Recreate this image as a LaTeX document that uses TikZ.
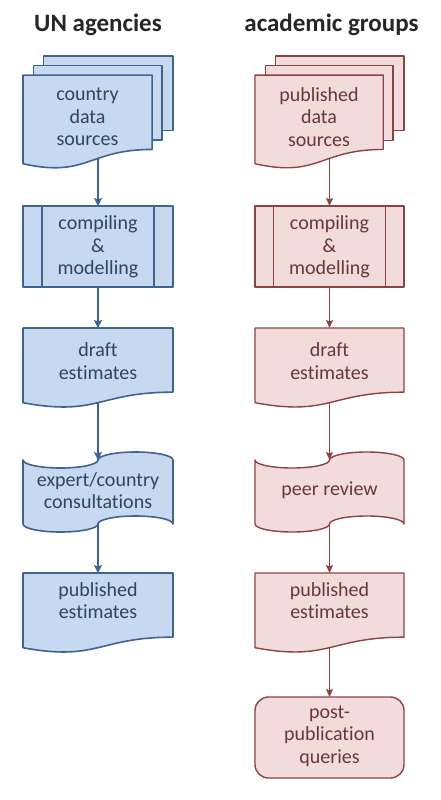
\documentclass[tikz,border=0pt]{standalone}
\usepackage{fontspec}
\setmainfont[Ligatures=NoCommon]{Carlito}
\usetikzlibrary{arrows.meta}
\definecolor{bfill}{HTML}{C6D9F1}
\definecolor{bline}{HTML}{41638F}
\definecolor{btext}{HTML}{2F4463}
\definecolor{rfill}{HTML}{F2DCDB}
\definecolor{rline}{HTML}{8A4444}
\definecolor{rtext}{HTML}{683838}
\definecolor{ttext}{HTML}{262626}
\begin{document}
\begin{tikzpicture}[x=1pt,y=-1pt,
  bshape/.style={fill=bfill,draw=bline,line width=1.6pt,line join=round},
  rshape/.style={fill=rfill,draw=rline,line width=1.4pt,line join=round},
  btxt/.style={text=btext,align=center,font=\fontsize{20}{22.5}\selectfont,inner sep=0pt},
  rtxt/.style={text=rtext,align=center,font=\fontsize{20}{22.5}\selectfont,inner sep=0pt},
  coltitle/.style={text=ttext,font=\fontsize{25}{30}\selectfont\bfseries,anchor=base,inner sep=0pt},
  barrow/.style={draw=bline,line width=1.8pt,-{Stealth[length=8pt,width=8pt,inset=1.5pt]}},
  rarrow/.style={draw=rline,line width=1.3pt,-{Stealth[length=8pt,width=7pt,inset=1.5pt]}},
]
\useasboundingbox[fill=white] (0,0) rectangle (441,800);

% ---------- titles ----------
\node[coltitle] (tUN) at (98,32) {UN agencies};
\node[coltitle] (tAC) at (331.5,32) {academic groups};

% ---------- left column (UN agencies) ----------
\begin{scope}[shift={(23,56)},xscale=150,yscale=112]
  \path[bshape] (0.1376,0) rectangle (1,0.6663);
  \path[bshape] (0.0709,0.0840) rectangle (0.9259,0.7524);
  \path[bshape] (0,0.1701) -- (0.8609,0.1701) -- (0.8609,0.8344)
     .. controls (0.4305,0.8344) and (0.4305,1.0899) .. (0,0.9621) -- cycle;
\end{scope}
\begin{scope}[shift={(23,206)},xscale=150,yscale=81]
  \path[bshape] (0,0) rectangle (1,1);
  \draw[bshape,fill=none] (0.125,0) -- (0.125,1) (0.875,0) -- (0.875,1);
\end{scope}
\begin{scope}[shift={(23,328)},xscale=150,yscale=80]
  \path[bshape] (0,0) -- (1,0) -- (1,0.802)
     .. controls (0.5,0.802) and (0.5,1.1075) .. (0,0.9339) -- cycle;
\end{scope}
\begin{scope}[shift={(23,452)},xscale=150,yscale=80]
  \path[bshape] (0,0.1) arc[start angle=180,end angle=0,x radius=0.25,y radius=0.1]
     arc[start angle=180,end angle=360,x radius=0.25,y radius=0.1]
     -- (1,0.9) arc[start angle=0,end angle=-180,x radius=0.25,y radius=0.1]
     arc[start angle=0,end angle=180,x radius=0.25,y radius=0.1] -- cycle;
\end{scope}
\begin{scope}[shift={(23,573)},xscale=150,yscale=80]
  \path[bshape] (0,0) -- (1,0) -- (1,0.802)
     .. controls (0.5,0.802) and (0.5,1.1075) .. (0,0.9339) -- cycle;
\end{scope}

\node[btxt] (uSrc) at (87.5,117) {country\\data\\sources};
\node[btxt] (uComp) at (98,247) {compiling\\\&\\modelling};
\node[btxt] (uDraft) at (98,361) {draft\\estimates};
\node[btxt] (uCons) at (98,490.5) {expert/country\\consultations};
\node[btxt] (uPub) at (98,600.5) {published\\estimates};

\coordinate (uSrcOut) at (98,158.4);
\coordinate (uCompIn) at (98,206);
\coordinate (uCompOut) at (98,287);
\coordinate (uDraftIn) at (98,328);
\coordinate (uDraftOut) at (98,402.6);
\coordinate (uConsIn) at (98,460);
\coordinate (uConsOut) at (98,524);
\coordinate (uPubIn) at (98,573);

\draw[barrow] (uSrcOut) -- (uCompIn);
\draw[barrow] (uCompOut) -- (uDraftIn);
\draw[barrow] (uDraftOut) -- (uConsIn);
\draw[barrow] (uConsOut) -- (uPubIn);

% ---------- right column (academic groups) ----------
\begin{scope}[shift={(255,56)},xscale=149,yscale=112]
  \path[rshape] (0.1376,0) rectangle (1,0.6663);
  \path[rshape] (0.0709,0.0840) rectangle (0.9259,0.7524);
  \path[rshape] (0,0.1701) -- (0.8609,0.1701) -- (0.8609,0.8344)
     .. controls (0.4305,0.8344) and (0.4305,1.0899) .. (0,0.9621) -- cycle;
\end{scope}
\begin{scope}[shift={(255,206)},xscale=149,yscale=81]
  \path[rshape] (0,0) rectangle (1,1);
  \draw[rshape,fill=none] (0.125,0) -- (0.125,1) (0.875,0) -- (0.875,1);
\end{scope}
\begin{scope}[shift={(255,328)},xscale=149,yscale=80]
  \path[rshape] (0,0) -- (1,0) -- (1,0.802)
     .. controls (0.5,0.802) and (0.5,1.1075) .. (0,0.9339) -- cycle;
\end{scope}
\begin{scope}[shift={(255,452)},xscale=149,yscale=80]
  \path[rshape] (0,0.1) arc[start angle=180,end angle=0,x radius=0.25,y radius=0.1]
     arc[start angle=180,end angle=360,x radius=0.25,y radius=0.1]
     -- (1,0.9) arc[start angle=0,end angle=-180,x radius=0.25,y radius=0.1]
     arc[start angle=0,end angle=180,x radius=0.25,y radius=0.1] -- cycle;
\end{scope}
\begin{scope}[shift={(255,573)},xscale=149,yscale=80]
  \path[rshape] (0,0) -- (1,0) -- (1,0.802)
     .. controls (0.5,0.802) and (0.5,1.1075) .. (0,0.9339) -- cycle;
\end{scope}
\path[rshape,rounded corners=13.5pt] (255,697) rectangle (404,778);

\node[rtxt] (aSrc) at (319,117) {published\\data\\sources};
\node[rtxt] (aComp) at (329.5,247) {compiling\\\&\\modelling};
\node[rtxt] (aDraft) at (329.5,361) {draft\\estimates};
\node[rtxt] (aPeer) at (329.5,490) {peer review};
\node[rtxt] (aPub) at (329.5,600.5) {published\\estimates};
\node[rtxt] (aPost) at (329.5,736) {post-\\publication\\queries};

\coordinate (aSrcOut) at (329.5,158.4);
\coordinate (aCompIn) at (329.5,206);
\coordinate (aCompOut) at (329.5,287);
\coordinate (aDraftIn) at (329.5,328);
\coordinate (aDraftOut) at (329.5,402.6);
\coordinate (aPeerIn) at (329.5,460);
\coordinate (aPeerOut) at (329.5,524);
\coordinate (aPubIn) at (329.5,573);
\coordinate (aPubOut) at (329.5,648);
\coordinate (aPostIn) at (329.5,697);

\draw[rarrow] (aSrcOut) -- (aCompIn);
\draw[rarrow] (aCompOut) -- (aDraftIn);
\draw[rarrow] (aDraftOut) -- (aPeerIn);
\draw[rarrow] (aPeerOut) -- (aPubIn);
\draw[rarrow] (aPubOut) -- (aPostIn);
\end{tikzpicture}
\end{document}
